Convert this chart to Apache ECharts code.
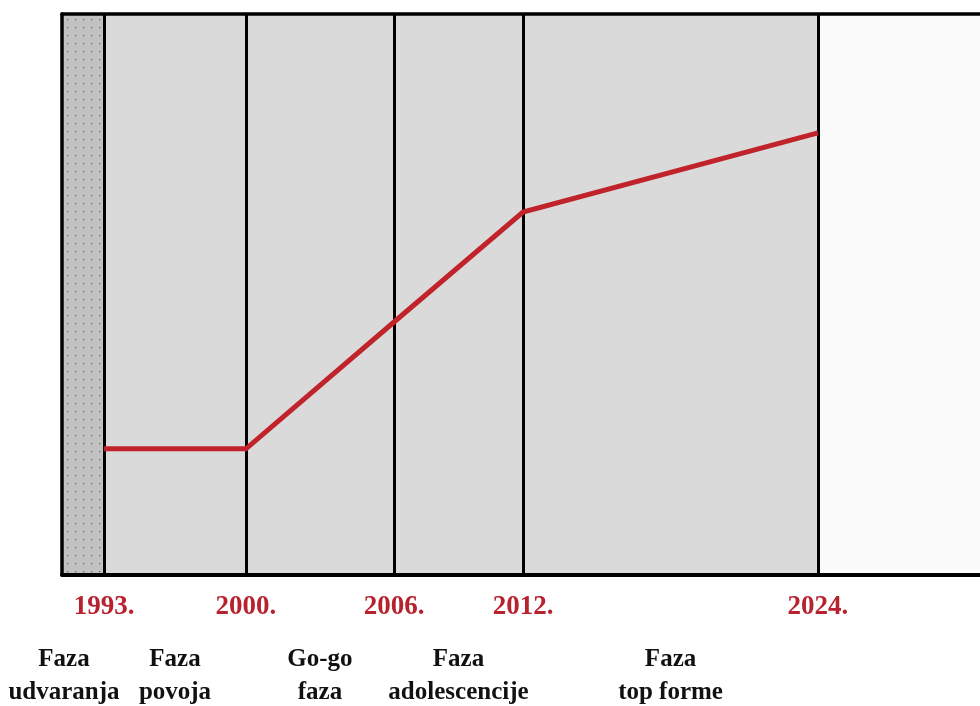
<!DOCTYPE html>
<html>
<head>
<meta charset="utf-8">
<script src="https://cdn.jsdelivr.net/npm/echarts@6.0.0/dist/echarts.min.js"></script>
<style>
html,body{margin:0;padding:0;background:#fff;}
#chart{width:980px;height:706px;}
</style>
</head>
<body>
<div id="chart"></div>
<script>
// Timeline years (tick labels) and their position along the timeline axis (0-100)
const years = ['1993.', '2000.', '2006.', '2012.', '2024.'];
const yearPos = [4.58, 20.04, 36.17, 50.22, 82.35];
// Red line value at each year (0-100 scale)
const lineValues = [22.5, 22.5, 45.1, 64.7, 78.8];
// Phase names and label positions along the timeline axis
const phases = ['Faza\nudvaranja', 'Faza\npovoja', 'Go-go\nfaza', 'Faza\nadolescencije', 'Faza\ntop forme'];
const phasePos = [0.22, 12.31, 28.1, 43.19, 66.29];

const FONT = '"Liberation Serif", "Times New Roman", serif';

// dotted pattern for the first band
const pc = document.createElement('canvas');
pc.width = 8; pc.height = 8;
const pctx = pc.getContext('2d');
pctx.fillStyle = '#c2c2c2';
pctx.fillRect(0, 0, 8, 8);
pctx.fillStyle = '#6a6a6a';
pctx.fillRect(3, 3, 1.3, 1.3);

const bands = [];
bands.push([{ xAxis: 0, itemStyle: { color: { image: pc, repeat: 'repeat' } } }, { xAxis: yearPos[0] }]);
for (let i = 0; i < yearPos.length - 1; i++) {
  bands.push([{ xAxis: yearPos[i], itemStyle: { color: '#dadada' } }, { xAxis: yearPos[i + 1] }]);
}
bands.push([{ xAxis: yearPos[yearPos.length - 1], itemStyle: { color: '#fafafa' } }, { xAxis: 100 }]);

function nearest(arr, v) {
  let best = 0;
  for (let i = 0; i < arr.length; i++) if (Math.abs(arr[i] - v) < Math.abs(arr[best] - v)) best = i;
  return best;
}

const chart = echarts.init(document.getElementById('chart'), null, { renderer: 'canvas' });
chart.setOption({
  animation: false,
  backgroundColor: '#ffffff',
  grid: { left: 62, top: 14, right: 0, bottom: 131, containLabel: false, outerBoundsMode: 'none' },
  xAxis: [
    {
      type: 'value', min: 0, max: 100, position: 'bottom', z: 5,
      axisLine: { show: true, lineStyle: { color: '#000', width: 4 } },
      axisTick: { show: false },
      splitLine: { show: false },
      axisLabel: {
        customValues: yearPos,
        margin: 19,
        color: '#b8222e',
        fontFamily: FONT,
        fontWeight: 'bold',
        fontSize: 27,
        formatter: function (v) { return years[nearest(yearPos, v)]; }
      }
    },
    {
      type: 'value', min: 0, max: 100, position: 'bottom', offset: 60, z: 5,
      axisLine: { show: false },
      axisTick: { show: false },
      splitLine: { show: false },
      axisLabel: {
        customValues: phasePos,
        margin: 8,
        color: '#111',
        fontFamily: FONT,
        fontWeight: 'bold',
        fontSize: 25,
        lineHeight: 33,
        align: 'center',
        formatter: function (v) { return phases[nearest(phasePos, v)]; }
      }
    },
    {
      type: 'value', min: 0, max: 100, position: 'top', z: 5,
      axisLine: { show: true, lineStyle: { color: '#000', width: 3.5 } },
      axisTick: { show: false },
      axisLabel: { show: false },
      splitLine: { show: false }
    }
  ],
  yAxis: {
    type: 'value', min: 0, max: 100, z: 5,
    axisLine: { show: true, lineStyle: { color: '#000', width: 3.5 } },
    axisTick: { show: false },
    axisLabel: { show: false },
    splitLine: { show: false }
  },
  series: [
    {
      type: 'line',
      xAxisIndex: 0,
      data: yearPos.map((p, i) => [p, lineValues[i]]),
      symbol: 'none',
      z: 4,
      lineStyle: { color: '#c1232b', width: 5, join: 'miter' },
      markArea: { silent: true, z: 1, data: bands },
      markLine: {
        silent: true,
        symbol: 'none',
        z: 3,
        label: { show: false },
        lineStyle: { color: '#000', width: 3, type: 'solid' },
        data: yearPos.map(p => ({ xAxis: p }))
      }
    }
  ]
});
</script>
</body>
</html>
